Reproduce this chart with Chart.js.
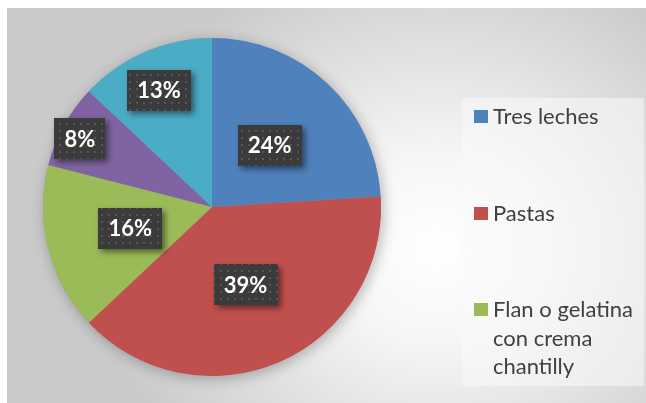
<!DOCTYPE html>
<html>
<head>
<meta charset="utf-8">
<script src="https://cdn.jsdelivr.net/npm/chart.js@4.4.1/dist/chart.umd.min.js"></script>
<style>
html, body { margin: 0; padding: 0; background: #fff; width: 646px; height: 403px; overflow: hidden; }
#frame {
    position: absolute; left: 7px; top: 8px; width: 639px; height: 395px;
    background: radial-gradient(ellipse 340px 310px at 430px 240px, #ffffff 0%, #f6f6f6 30%, #cacaca 100%);
}
#pie { position: absolute; left: 0; top: 0; }
#legend {
    position: absolute; left: 455px; top: 90px; width: 182px; height: 288px;
    box-sizing: border-box; padding: 4px 0 0 12px;
    background: rgba(250, 250, 250, 0.55);
    font-family: Lato, 'Open Sans', sans-serif; font-size: 22px; line-height: 28.5px; color: #404040;
}
.item { display: flex; align-items: flex-start; margin-bottom: 68px; }
.swatch { width: 14px; height: 13px; margin-top: 8px; margin-right: 5px; flex: none; }
.txt { width: 152px; }
</style>
</head>
<body>
<div id="frame">
    <canvas id="pie" width="639" height="395"></canvas>
    <div id="legend"></div>
</div>
<script>
// Data (legend in the original is cut after three rows)
const categories = ['Tres leches', 'Pastas', 'Flan o gelatina con crema chantilly', '', ''];
const shares = [24, 39, 16, 8, 13];
const sliceColors = ['#4F81BD', '#C0504D', '#9BBB59', '#8064A2', '#4BACC6'];
const legendRows = 3;

// label placement: fraction of radius and a small turn (deg), Excel "best fit" style
const labelSpots = [
    { r: 0.5, turn: 0 }, { r: 0.5, turn: 0 }, { r: 0.5, turn: 0 },
    { r: 0.88, turn: -1.5 }, { r: 0.76, turn: -1 }
];

function dotPattern(ctx) {
    const p = document.createElement('canvas');
    p.width = 7; p.height = 7;
    const g = p.getContext('2d');
    g.fillStyle = '#3b3b3b'; g.fillRect(0, 0, 7, 7);
    g.fillStyle = '#555555'; g.fillRect(3, 3, 2, 2);
    return ctx.createPattern(p, 'repeat');
}

const pieShadow = {
    id: 'pieShadow',
    beforeDatasetsDraw(chart) {
        const ctx = chart.ctx;
        ctx.save();
        ctx.shadowColor = 'rgba(0,0,0,0.28)';
        ctx.shadowBlur = 14;
        ctx.shadowOffsetX = 2;
        ctx.shadowOffsetY = 3;
        const arc = chart.getDatasetMeta(0).data[0];
        ctx.beginPath();
        ctx.arc(arc.x, arc.y, arc.outerRadius, 0, Math.PI * 2);
        ctx.fillStyle = '#999';
        ctx.fill();
        ctx.restore();
    }
};

const boxLabels = {
    id: 'boxLabels',
    afterDatasetsDraw(chart) {
        const ctx = chart.ctx;
        const total = shares.reduce((a, b) => a + b, 0);
        const fill = dotPattern(ctx);
        chart.getDatasetMeta(0).data.forEach((arc, i) => {
            const spot = labelSpots[i];
            const mid = (arc.startAngle + arc.endAngle) / 2 + spot.turn * Math.PI / 180;
            const x = arc.x + Math.cos(mid) * arc.outerRadius * spot.r;
            const y = arc.y + Math.sin(mid) * arc.outerRadius * spot.r;
            const text = Math.round(shares[i] / total * 100) + '%';
            ctx.save();
            ctx.font = 'bold 22px Lato, "Open Sans", sans-serif';
            const w = ctx.measureText(text).width + 20, h = 41;
            ctx.shadowColor = 'rgba(0,0,0,0.5)';
            ctx.shadowBlur = 6;
            ctx.shadowOffsetX = 3;
            ctx.shadowOffsetY = 3;
            ctx.fillStyle = fill;
            ctx.fillRect(Math.round(x - w / 2), Math.round(y - h / 2), Math.round(w), h);
            ctx.shadowColor = 'transparent';
            ctx.fillStyle = '#ffffff';
            ctx.textAlign = 'center';
            ctx.textBaseline = 'middle';
            ctx.fillText(text, x, y + 1);
            ctx.restore();
        });
    }
};

new Chart(document.getElementById('pie'), {
    type: 'pie',
    data: {
        labels: categories,
        datasets: [{ data: shares, backgroundColor: sliceColors, borderWidth: 0 }]
    },
    options: {
        responsive: false, animation: false,
        layout: { padding: { left: 36, top: 30, right: 265, bottom: 27 } },
        plugins: { legend: { display: false }, tooltip: { enabled: false } }
    },
    plugins: [pieShadow, boxLabels]
});

const legend = document.getElementById('legend');
categories.slice(0, legendRows).forEach((name, i) => {
    const item = document.createElement('div');
    item.className = 'item';
    item.innerHTML = `<span class="swatch" style="background:${sliceColors[i]}"></span><span class="txt">${name}</span>`;
    legend.appendChild(item);
});
</script>
</body>
</html>
